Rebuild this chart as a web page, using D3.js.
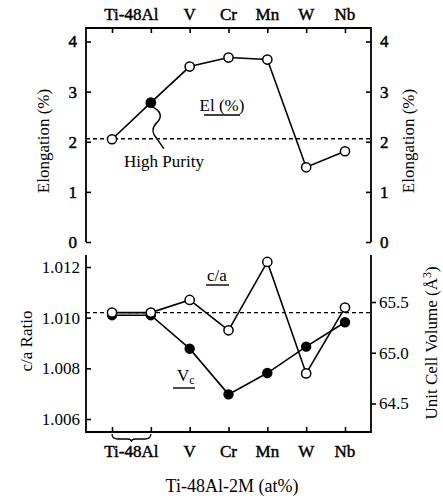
<!DOCTYPE html>
<html>
<head>
<meta charset="utf-8">
<script src="https://cdn.jsdelivr.net/npm/d3@7"></script>
<style>
  html, body { margin: 0; padding: 0; background: #fff; }
  svg { display: block; }
  text { font-family: "Liberation Serif", "Times New Roman", serif; fill: #000; }
  .heavy { stroke: #000; stroke-width: 0.45px; }
</style>
</head>
<body>
<svg id="chart" width="443" height="499"></svg>
<script>
// ---- data ----
const categories = ["Ti-48Al", "Ti-48Al HP", "V", "Cr", "Mn", "W", "Nb"];
const axisLabels = ["Ti-48Al", "V", "Cr", "Mn", "W", "Nb"];
const elongation = [2.05, 2.78, 3.50, 3.68, 3.64, 1.49, 1.81];
const elongationFilled = [false, true, false, false, false, false, false];
const caRatio = [1.0102, 1.0102, 1.0107, 1.0095, 1.0122, 1.0078, 1.0104];
const cellVolume = [65.37, 65.37, 65.04, 64.59, 64.80, 65.06, 65.30];
const elongationRef = 2.06;
const caRef = 1.0102;
const elongTicks = [0, 1, 2, 3, 4];
const caTicks = [1.006, 1.008, 1.010, 1.012];
const volTicks = [64.5, 65.0, 65.5];

const svg = d3.select("#chart");
const FONT = "17px";

// ---- scales ----
const x = d3.scalePoint().domain(categories).range([86, 371]).padding(0.67);
const yEl = d3.scaleLinear().domain([0, 4]).range([242, 41.5]);
const yCa = d3.scaleLinear().domain([1.006, 1.012]).range([419, 267]);
const yVol = d3.scaleLinear().domain([64.5, 65.5]).range([403.5, 302]);

const topY = 28, topBottom = 242;
const botTop = 255, botBottom = 432;
const left = 86, right = 371;

function styleAxis(g) {
  g.attr("font-family", null).attr("font-size", null);
  g.selectAll("line").attr("stroke", "#000").attr("stroke-width", 1.6);
  g.selectAll("text").style("font-size", FONT);
  g.select(".domain").remove();
}

// ---- top panel frame ----
svg.append("path")
  .attr("d", `M${left},${topBottom}V${topY}H${right}V${topBottom}`)
  .attr("fill", "none").attr("stroke", "#000").attr("stroke-width", 1.8);

svg.append("g").attr("transform", `translate(${left},0)`)
  .call(d3.axisLeft(yEl).tickValues(elongTicks).tickSizeInner(-5).tickSizeOuter(0).tickPadding(9).tickFormat(d3.format("d")))
  .call(styleAxis)
  .selectAll("text").attr("class", "heavy");
svg.append("g").attr("transform", `translate(${right},0)`)
  .call(d3.axisRight(yEl).tickValues(elongTicks).tickSizeInner(-5).tickSizeOuter(0).tickPadding(9).tickFormat(d3.format("d")))
  .call(styleAxis)
  .selectAll("text").attr("class", "heavy");
svg.append("g").attr("transform", `translate(0,${topY})`)
  .call(d3.axisBottom(x).tickSizeInner(5).tickSizeOuter(0).tickFormat(""))
  .call(styleAxis);

// top category labels
function catX(label) {
  if (label === "Ti-48Al") return (x(categories[0]) + x(categories[1])) / 2;
  return x(label);
}
svg.append("g").selectAll("text").data(axisLabels).join("text")
  .attr("class", "heavy")
  .attr("x", d => catX(d)).attr("y", 20)
  .attr("text-anchor", "middle").style("font-size", FONT)
  .text(d => d);

// axis titles top panel
svg.append("text").attr("transform", "translate(49,141) rotate(-90)")
  .attr("text-anchor", "middle").style("font-size", FONT).text("Elongation (%)");
svg.append("text").attr("transform", "translate(414,141) rotate(-90)")
  .attr("text-anchor", "middle").style("font-size", FONT).text("Elongation (%)");

// reference dashed line top
svg.append("line")
  .attr("x1", left).attr("x2", right)
  .attr("y1", yEl(elongationRef)).attr("y2", yEl(elongationRef))
  .attr("stroke", "#000").attr("stroke-width", 1.3).attr("stroke-dasharray", "4,3");

// elongation line & points
svg.append("path")
  .attr("d", d3.line().x((d, i) => x(categories[i])).y(d => yEl(d))(elongation))
  .attr("fill", "none").attr("stroke", "#000").attr("stroke-width", 1.6);
svg.append("g").selectAll("circle").data(elongation).join("circle")
  .attr("cx", (d, i) => x(categories[i])).attr("cy", d => yEl(d))
  .attr("r", 4.6)
  .attr("fill", (d, i) => elongationFilled[i] ? "#000" : "#fff")
  .attr("stroke", "#000").attr("stroke-width", 1.5);

// El (%) label
svg.append("text").attr("x", 222).attr("y", 111).attr("text-anchor", "middle")
  .style("font-size", FONT).text("El (%)");
svg.append("line").attr("x1", 204).attr("x2", 240).attr("y1", 115).attr("y2", 115)
  .attr("stroke", "#000").attr("stroke-width", 1.4);

// High Purity annotation
const hpX = x(categories[1]), hpY = yEl(elongation[1]);
svg.append("path")
  .attr("d", `M${hpX + 1},${hpY + 4} C${hpX + 10},${hpY + 8} ${hpX + 12},${hpY + 14} ${hpX + 6},${hpY + 20} C${hpX},${hpY + 26} ${hpX + 2},${hpY + 32} ${hpX + 6},${hpY + 36} L${hpX + 13},${hpY + 46}`)
  .attr("fill", "none").attr("stroke", "#000").attr("stroke-width", 1.5);
svg.append("text").attr("x", 164).attr("y", 167).attr("text-anchor", "middle")
  .style("font-size", FONT).text("High Purity");

// ---- bottom panel frame ----
svg.append("path")
  .attr("d", `M${left},${botTop}V${botBottom}H${right}V${botTop}`)
  .attr("fill", "none").attr("stroke", "#000").attr("stroke-width", 1.8);

svg.append("g").attr("transform", `translate(${left},0)`)
  .call(d3.axisLeft(yCa).tickValues(caTicks).tickSizeInner(-5).tickSizeOuter(0).tickPadding(6).tickFormat(d3.format(".3f")))
  .call(styleAxis);
svg.append("g").attr("transform", `translate(${right},0)`)
  .call(d3.axisRight(yVol).tickValues(volTicks).tickSizeInner(5).tickSizeOuter(0).tickPadding(3).tickFormat(d3.format(".1f")))
  .call(styleAxis);
svg.append("g").attr("transform", `translate(0,${botBottom})`)
  .call(d3.axisTop(x).tickSizeInner(5).tickSizeOuter(0).tickFormat(""))
  .call(styleAxis);

// bottom category labels
svg.append("g").selectAll("text").data(axisLabels).join("text")
  .attr("class", "heavy")
  .attr("x", d => catX(d)).attr("y", 457)
  .attr("text-anchor", "middle").style("font-size", FONT)
  .text(d => d);

// brace under Ti-48Al
const bx0 = x(categories[0]), bx1 = x(categories[1]), bm = (bx0 + bx1) / 2;
const by = botBottom + 7;
svg.append("path")
  .attr("d", `M${bx0},${botBottom + 2} Q${bx0},${by} ${bx0 + 6},${by} L${bm - 4},${by} Q${bm},${by} ${bm},${by + 3} Q${bm},${by} ${bm + 4},${by} L${bx1 - 6},${by} Q${bx1},${by} ${bx1},${botBottom + 2}`)
  .attr("fill", "none").attr("stroke", "#000").attr("stroke-width", 1.3);

// x title
svg.append("text").attr("x", 232).attr("y", 492).attr("text-anchor", "middle")
  .style("font-size", "18px").text("Ti-48Al-2M (at%)");

// y titles bottom
svg.append("text").attr("transform", "translate(32,341) rotate(-90)")
  .attr("text-anchor", "middle").style("font-size", FONT).text("c/a Ratio");
const vt = svg.append("text").attr("transform", "translate(437,343) rotate(-90)")
  .attr("text-anchor", "middle").style("font-size", FONT);
vt.append("tspan").text("Unit Cell Volume (Å");
vt.append("tspan").attr("dy", -6).style("font-size", "12px").text("3");
vt.append("tspan").attr("dy", 6).text(")");

// dashed reference line bottom
svg.append("line")
  .attr("x1", left).attr("x2", right)
  .attr("y1", yCa(caRef)).attr("y2", yCa(caRef))
  .attr("stroke", "#000").attr("stroke-width", 1.3).attr("stroke-dasharray", "4,3");

// Vc line and points
svg.append("path")
  .attr("d", d3.line().x((d, i) => x(categories[i])).y(d => yVol(d))(cellVolume))
  .attr("fill", "none").attr("stroke", "#000").attr("stroke-width", 1.6);
// c/a line
svg.append("path")
  .attr("d", d3.line().x((d, i) => x(categories[i])).y(d => yCa(d))(caRatio))
  .attr("fill", "none").attr("stroke", "#000").attr("stroke-width", 1.6);

svg.append("g").selectAll("circle").data(cellVolume).join("circle")
  .attr("cx", (d, i) => x(categories[i])).attr("cy", d => yVol(d))
  .attr("r", 4.6).attr("fill", "#000").attr("stroke", "#000").attr("stroke-width", 1.2);
svg.append("g").selectAll("circle").data(caRatio).join("circle")
  .attr("cx", (d, i) => x(categories[i])).attr("cy", d => yCa(d))
  .attr("r", 4.6).attr("fill", "#fff").attr("stroke", "#000").attr("stroke-width", 1.5);

// c/a label
svg.append("text").attr("x", 217).attr("y", 281).attr("text-anchor", "middle")
  .style("font-size", FONT).text("c/a");
svg.append("line").attr("x1", 206).attr("x2", 229).attr("y1", 285).attr("y2", 285)
  .attr("stroke", "#000").attr("stroke-width", 1.4);

// Vc label
const vc = svg.append("text").attr("x", 177).attr("y", 381).style("font-size", FONT);
vc.append("tspan").text("V");
vc.append("tspan").attr("dy", 3).style("font-size", "12px").text("c");
svg.append("line").attr("x1", 173).attr("x2", 195).attr("y1", 388).attr("y2", 388)
  .attr("stroke", "#000").attr("stroke-width", 1.4);
</script>
</body>
</html>
